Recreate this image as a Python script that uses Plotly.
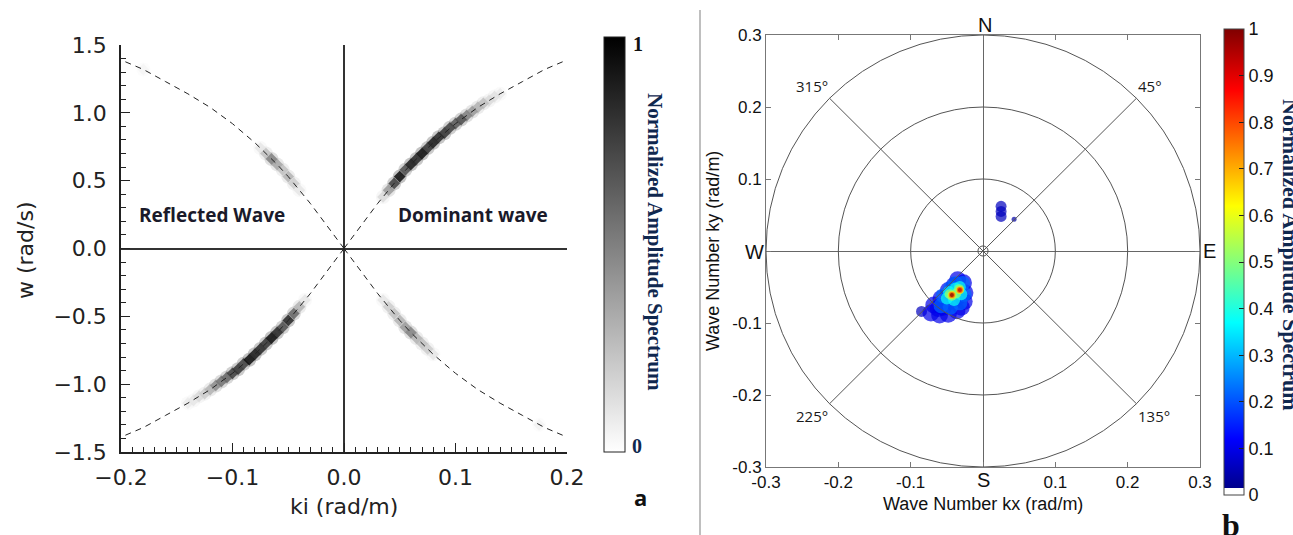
import plotly.graph_objects as go
import math

W, H = 1293, 535


def px(x):
    return x / W


def py(y):
    return 1 - y / H


# ---------------- Panel a data ----------------
# dispersion curve, k in rad/m, w in rad/s
disp_k = [0.0, 0.01, 0.02, 0.03, 0.04, 0.05, 0.06, 0.07, 0.08, 0.09, 0.10, 0.12, 0.14, 0.16, 0.18, 0.20]
disp_w = [0.0, 0.11, 0.22, 0.33, 0.43, 0.53, 0.62, 0.70, 0.78, 0.85, 0.92, 1.04, 1.14, 1.23, 1.32, 1.39]

# dominant wave streak (upper right)
dom_k = [0.035, 0.040, 0.045, 0.050, 0.055, 0.060, 0.065, 0.070, 0.075, 0.080, 0.085,
         0.090, 0.095, 0.100, 0.105, 0.110, 0.115, 0.120, 0.125, 0.130, 0.135, 0.140]
dom_w = [0.38, 0.43, 0.48, 0.53, 0.58, 0.62, 0.66, 0.70, 0.74, 0.78, 0.82,
         0.85, 0.89, 0.92, 0.95, 0.98, 1.01, 1.04, 1.07, 1.09, 1.12, 1.14]
dom_amp = [0.15, 0.40, 0.75, 0.95, 0.70, 0.90, 0.85, 0.95, 0.80, 0.90, 0.85,
           0.80, 0.75, 0.65, 0.70, 0.50, 0.40, 0.30, 0.25, 0.15, 0.12, 0.08]

# dominant wave streak, negative branch (lower left)
neg_k = [-0.035, -0.040, -0.045, -0.050, -0.055, -0.060, -0.065, -0.070, -0.075, -0.080, -0.085,
         -0.090, -0.095, -0.100, -0.105, -0.110, -0.115, -0.120, -0.125, -0.130, -0.135, -0.140]
neg_w = [-0.38, -0.43, -0.48, -0.53, -0.58, -0.62, -0.66, -0.70, -0.74, -0.78, -0.82,
         -0.85, -0.89, -0.92, -0.95, -0.98, -1.01, -1.04, -1.07, -1.09, -1.12, -1.14]
neg_amp = [0.10, 0.30, 0.60, 0.85, 0.70, 0.85, 0.95, 0.80, 0.85, 0.90, 0.95,
           0.75, 0.80, 0.75, 0.60, 0.55, 0.45, 0.30, 0.20, 0.15, 0.10, 0.08]

# reflected wave streak (upper left)
refl_k = [-0.040, -0.045, -0.050, -0.055, -0.060, -0.065, -0.070, -0.075, -0.180]
refl_w = [0.43, 0.48, 0.53, 0.58, 0.62, 0.66, 0.70, 0.74, 1.32]
refl_amp = [0.10, 0.20, 0.30, 0.25, 0.35, 0.50, 0.25, 0.10, 0.04]

# reflected wave streak, negative branch (lower right)
reln_k = [0.035, 0.040, 0.045, 0.050, 0.055, 0.060, 0.065, 0.070, 0.075, 0.080, 0.175]
reln_w = [-0.38, -0.43, -0.48, -0.53, -0.58, -0.62, -0.66, -0.70, -0.74, -0.78, -1.30]
reln_amp = [0.10, 0.20, 0.25, 0.30, 0.40, 0.50, 0.30, 0.25, 0.20, 0.10, 0.05]

a_xticks = [-0.2, -0.1, 0.0, 0.1, 0.2]
a_yticks = [-1.5, -1.0, -0.5, 0.0, 0.5, 1.0, 1.5]

# ---------------- Panel b data ----------------
spec_kx = [-0.027, -0.025, -0.026, -0.036, -0.048, -0.060, -0.072, -0.068, -0.058, -0.048,
           -0.040, -0.035, -0.045, -0.055, -0.036, -0.062, -0.030, -0.085,
           -0.028, -0.026, -0.032, -0.045, -0.058, -0.055, -0.045, -0.038,
           -0.032, -0.030, -0.040, -0.050, -0.047, -0.038,
           -0.033, -0.037, -0.043, -0.046,
           -0.032, -0.043,
           -0.032, -0.043,
           -0.032, -0.043,
           0.025, 0.025, 0.025, 0.043]
spec_ky = [-0.044, -0.058, -0.070, -0.083, -0.088, -0.089, -0.086, -0.075, -0.066, -0.055,
           -0.048, -0.040, -0.070, -0.078, -0.065, -0.080, -0.078, -0.084,
           -0.045, -0.060, -0.072, -0.078, -0.076, -0.062, -0.052, -0.045,
           -0.050, -0.060, -0.068, -0.066, -0.057, -0.052,
           -0.053, -0.059, -0.062, -0.060,
           -0.054, -0.061,
           -0.054, -0.061,
           -0.054, -0.061,
           0.062, 0.055, 0.048, 0.044]
spec_amp = [0.10, 0.10, 0.10, 0.10, 0.10, 0.10, 0.10, 0.10, 0.10, 0.10,
            0.10, 0.10, 0.10, 0.10, 0.10, 0.10, 0.10, 0.06,
            0.22, 0.22, 0.22, 0.22, 0.22, 0.22, 0.22, 0.22,
            0.38, 0.38, 0.38, 0.38, 0.38, 0.38,
            0.52, 0.52, 0.52, 0.52,
            0.66, 0.66,
            0.80, 0.80,
            0.93, 1.00,
            0.06, 0.06, 0.06, 0.04]

b_ticks = [-0.3, -0.2, -0.1, 0.0, 0.1, 0.2, 0.3]
b_ticktext = ["-0.3", "-0.2", "-0.1", "", "0.1", "0.2", "0.3"]
rings = [0.1, 0.2, 0.3]
center_ring = 0.007
diag_angles = [45, 135, 225, 315]
cb_ticks = [0, 0.1, 0.2, 0.3, 0.4, 0.5, 0.6, 0.7, 0.8, 0.9, 1]
cb_ticktext = ["0", "0.1", "0.2", "0.3", "0.4", "0.5", "0.6", "0.7", "0.8", "0.9", "1"]

# ---------------- figure ----------------
fig = go.Figure()

# gray spectrum (panel a)
gk = dom_k + neg_k + refl_k + reln_k
gw = dom_w + neg_w + refl_w + reln_w
ga = dom_amp + neg_amp + refl_amp + reln_amp
order = sorted(range(len(ga)), key=lambda i: ga[i])
gk = [gk[i] for i in order]
gw = [gw[i] for i in order]
ga = [ga[i] for i in order]

gray_scale = [[0, "rgb(255,255,255)"], [1, "rgb(0,0,0)"]]
# soft halo under the streaks
fig.add_trace(go.Scatter(
    x=gk, y=gw, mode="markers", xaxis="x", yaxis="y",
    marker=dict(symbol="circle", size=14, color=[a * 0.45 for a in ga], colorscale=gray_scale,
                cmin=0, cmax=1, opacity=0.55, line=dict(width=0)),
    hoverinfo="skip", showlegend=False))
fig.add_trace(go.Scatter(
    x=gk, y=gw, mode="markers", xaxis="x", yaxis="y",
    marker=dict(symbol="diamond", size=9, color=ga, colorscale=gray_scale, cmin=0, cmax=1,
                opacity=0.85, line=dict(width=0), showscale=True,
                colorbar=dict(x=px(604), xanchor="left", xpad=0, ypad=0,
                              y=py((37 + 452) / 2), yanchor="middle", len=(452 - 37) / H,
                              thickness=21, outlinewidth=1, outlinecolor="#222",
                              showticklabels=False, ticks="")),
    hoverinfo="skip", showlegend=False))

# dispersion curve, 4 branches
cx, cy = [], []
for sx, sy in [(1, 1), (-1, 1), (-1, -1), (1, -1)]:
    cx += [sx * k for k in disp_k] + [None]
    cy += [sy * w for w in disp_w] + [None]
fig.add_trace(go.Scatter(x=cx, y=cy, mode="lines", xaxis="x", yaxis="y",
                         line=dict(color="#222", width=1, dash="6px,5px"),
                         hoverinfo="skip", showlegend=False))

# jet spectrum (panel b)
jet = [[0.0, "rgb(255,255,255)"], [0.015, "rgb(255,255,255)"], [0.015, "rgb(0,0,140)"],
       [0.12, "rgb(0,0,255)"], [0.37, "rgb(0,255,255)"], [0.62, "rgb(255,255,0)"],
       [0.87, "rgb(255,0,0)"], [1.0, "rgb(128,0,0)"]]
order = sorted(range(len(spec_amp)), key=lambda i: spec_amp[i])
sx_ = [spec_kx[i] for i in order]
sy_ = [spec_ky[i] for i in order]
sa_ = [spec_amp[i] for i in order]


def msize(a):
    if a < 0.05:
        return 5
    if a < 0.07:
        return 11
    if a < 0.15:
        return 17
    if a < 0.3:
        return 15
    if a < 0.45:
        return 12
    if a < 0.6:
        return 10
    if a < 0.75:
        return 8
    if a < 0.9:
        return 6
    return 4


fig.add_trace(go.Scatter(
    x=sx_, y=sy_, mode="markers", xaxis="x2", yaxis="y2",
    marker=dict(size=[msize(a) for a in sa_], color=sa_, colorscale=jet, cmin=0, cmax=1,
                line=dict(width=0), showscale=True,
                colorbar=dict(x=px(1224), xanchor="left", xpad=0, ypad=0,
                              y=py((29 + 495) / 2), yanchor="middle", len=(495 - 29) / H,
                              thickness=20, outlinewidth=1, outlinecolor="#444",
                              tickvals=cb_ticks, ticktext=cb_ticktext, ticks="inside",
                              ticklen=5, tickcolor="#222",
                              tickfont=dict(family="Liberation Sans", size=18, color="#111"))),
    hoverinfo="skip", showlegend=False))

# ---------------- axes ----------------
tf_a = dict(family="DejaVu Sans", size=22, color="#222")
tf_b = dict(family="Liberation Sans", size=17, color="#111")
fig.update_layout(
    width=W, height=H, margin=dict(l=0, r=0, t=0, b=0, autoexpand=False),
    paper_bgcolor="white", plot_bgcolor="white",
    xaxis=dict(domain=[px(121), px(567)], range=[-0.2, 0.2], anchor="y", automargin=False,
               tickvals=a_xticks, tickformat=".1f", ticks="inside", ticklen=9, tickwidth=1.2,
               tickcolor="#222", showline=True, linecolor="#222", linewidth=1.5,
               minor=dict(dtick=0.01, tick0=0, ticks="inside", ticklen=5, tickcolor="#222", tickwidth=1),
               zeroline=True, zerolinecolor="#333", zerolinewidth=1.5, showgrid=False,
               tickfont=tf_a, ticklabelstandoff=5),
    yaxis=dict(domain=[py(452), py(45)], range=[-1.5, 1.5], anchor="x", automargin=False,
               tickvals=a_yticks, tickformat=".1f", ticks="inside", ticklen=9, tickwidth=1.2,
               tickcolor="#222", showline=True, linecolor="#222", linewidth=1.5,
               minor=dict(dtick=0.1, tick0=0, ticks="inside", ticklen=5, tickcolor="#222", tickwidth=1),
               zeroline=True, zerolinecolor="#333", zerolinewidth=1.5, showgrid=False,
               tickfont=tf_a, ticklabelstandoff=8),
    xaxis2=dict(domain=[px(766), px(1200)], range=[-0.3, 0.3], anchor="y2", automargin=False,
                tickvals=b_ticks, ticktext=b_ticktext, ticks="inside", ticklen=5,
                tickcolor="#777", showline=True, linecolor="#777", linewidth=1, mirror="allticks",
                zeroline=True, zerolinecolor="#666", zerolinewidth=1, showgrid=False,
                tickfont=tf_b, ticklabelstandoff=0),
    yaxis2=dict(domain=[py(467), py(35)], range=[-0.3, 0.3], anchor="x2", automargin=False,
                tickvals=b_ticks, ticktext=b_ticktext, ticks="inside", ticklen=5,
                tickcolor="#777", showline=True, linecolor="#777", linewidth=1, mirror="allticks",
                zeroline=True, zerolinecolor="#666", zerolinewidth=1, showgrid=False,
                tickfont=tf_b),
)

# ---------------- shapes ----------------
shapes = []
for r in rings + [center_ring]:
    shapes.append(dict(type="circle", xref="x2", yref="y2", x0=-r, x1=r, y0=-r, y1=r,
                       line=dict(color="#555", width=1)))
R = max(rings)
for ang in diag_angles:
    t = math.radians(ang)
    shapes.append(dict(type="line", xref="x2", yref="y2", x0=0, y0=0,
                       x1=R * math.sin(t), y1=R * math.cos(t), line=dict(color="#555", width=1)))
shapes.append(dict(type="line", xref="paper", yref="paper", x0=px(700), x1=px(700),
                   y0=0, y1=py(10), line=dict(color="#aaa", width=1.5)))
fig.update_layout(shapes=shapes)

# ---------------- annotations ----------------
ann = []


def add(text, x, y, size, family="Liberation Sans", color="#111", angle=0, xa="center", ya="middle",
        weight="normal", xref="paper", yref="paper"):
    ann.append(dict(text=text, x=x, y=y, xref=xref, yref=yref, showarrow=False, xanchor=xa,
                    yanchor=ya, textangle=angle,
                    font=dict(family=family, size=size, color=color, weight=weight)))


add("Reflected Wave", px(212), py(215), 19, "Open Sans", "#1a1a2a", weight="bold")
add("Dominant wave", px(473), py(215), 19, "Open Sans", "#1a1a2a", weight="bold")
add("w (rad/s)", px(25), py(250), 22, "DejaVu Sans", "#222", angle=-90)
add("ki (rad/m)", px(344), py(506), 22, "DejaVu Sans", "#222")
add("a", px(640), py(497), 22, "Open Sans", "#111", weight="bold")
add("1", px(638), py(44), 20, "Liberation Serif", "#111", weight="bold")
add("0", px(637), py(446), 20, "Liberation Serif", "#10284f", weight="bold")
add("Normalized Amplitude Spectrum", px(655), py(242), 21, "Liberation Serif", "#10284f",
    angle=90, weight="bold")

add("N", px(985), py(25), 20)
add("S", px(983), py(480), 20)
add("W", px(754), py(252), 20)
add("E", px(1209), py(251), 20)
for ang in diag_angles:
    t = math.radians(ang)
    ex, ey = R * math.sin(t), R * math.cos(t)
    xa = "left" if ex > 0 else "right"
    ya = "bottom" if ey > 0 else "top"
    add("%d°" % ang, ex, ey, 15, "Open Sans", "#1a1a1a", xa=xa, ya=ya, xref="x2", yref="y2")
add("Wave Number kx (rad/m)", px(983), py(504), 18)
add("Wave Number ky (rad/m)", px(713), py(251), 18, angle=-90)
add("Normalized Amplitude Spectrum", px(1290), py(255), 22, "Liberation Serif", "#10284f",
    angle=90, weight="bold")
add("b", px(1231), py(525), 32, "Liberation Serif", "#111", weight="bold")
fig.update_layout(annotations=ann)

fig.write_html("out.html")
